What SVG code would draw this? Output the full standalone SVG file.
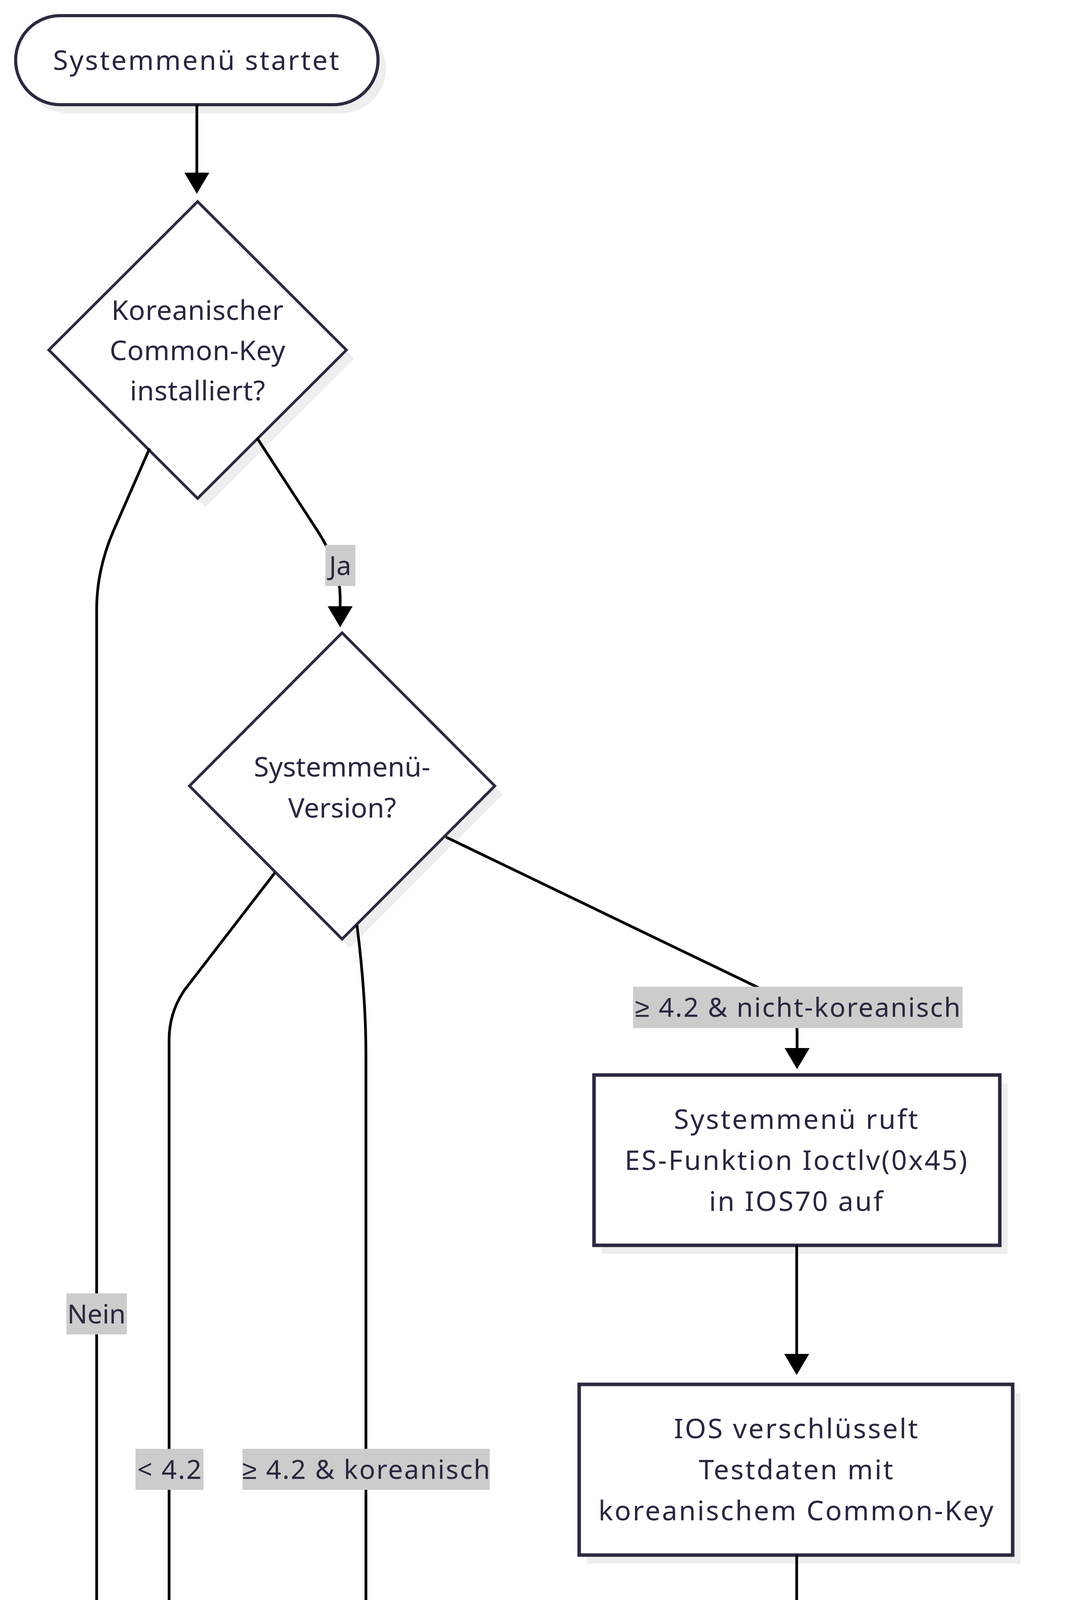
<svg xmlns="http://www.w3.org/2000/svg" width="2727" height="6250" viewBox="0 0 2727 6250">
<defs>
<style>
.sh{fill:#eeeeee;stroke:none}
.nd{fill:#ffffff;stroke:#2a2a40;stroke-width:7}
.bx{stroke-width:9}
.e{fill:none;stroke:#000000;stroke-width:7}
.t{font-family:"Noto Sans","Liberation Sans",sans-serif;font-size:70px;fill:#28273f;text-anchor:middle}
.wide{letter-spacing:4px}
.dia{letter-spacing:0.8px}
.lb{fill:#cccccc}
.lt{font-family:"Noto Sans","Liberation Sans",sans-serif;font-size:68px;fill:#28273f;text-anchor:middle}
.lts{letter-spacing:3px}
</style>
<marker id="arr" markerUnits="userSpaceOnUse" markerWidth="54" markerHeight="64" viewBox="0 0 54 64" refX="44" refY="32" orient="auto">
<path d="M0,0 L54,32 L0,64 z" fill="#000000"/>
</marker>
</defs>
<rect width="2727" height="6250" fill="#ffffff"/>
<g id="nodes">
<g id="node-start">
<rect class="sh" x="60" y="62" width="928" height="228" rx="114"/>
<rect class="nd" x="40" y="40" width="928" height="228" rx="114" style="stroke-width:8"/>
<text class="t wide" x="504" y="179">Systemmenü startet</text>
</g>
<g id="node-koreankey">
<polygon class="sh" points="526,538 907,918 526,1298 145,918"/>
<polygon class="nd" points="506,516 887,896 506,1276 125,896"/>
<text class="t dia" x="506" y="819">Koreanischer</text>
<text class="t dia" x="506" y="922">Common-Key</text>
<text class="t dia" x="506" y="1025">installiert?</text>
</g>
<g id="node-version">
<polygon class="sh" points="896,1642 1287,2034 896,2426 505,2034"/>
<polygon class="nd" points="876,1620 1267,2012 876,2404 485,2012"/>
<text class="t" x="876" y="1988">Systemmenü-</text>
<text class="t" x="876" y="2093">Version?</text>
</g>
<g id="node-ioctl">
<rect class="sh" x="1541" y="2774" width="1039" height="436"/>
<rect class="nd bx" x="1521" y="2752" width="1039" height="436"/>
<text class="t wide" x="2040" y="2890">Systemmenü ruft</text>
<text class="t wide" x="2040" y="2995">ES-Funktion Ioctlv(0x45)</text>
<text class="t wide" x="2040" y="3100">in IOS70 auf</text>
</g>
<g id="node-encrypt">
<rect class="sh" x="1503" y="3566" width="1110" height="437"/>
<rect class="nd bx" x="1483" y="3544" width="1110" height="437"/>
<text class="t wide" x="2040" y="3682">IOS verschlüsselt</text>
<text class="t wide" x="2040" y="3787">Testdaten mit</text>
<text class="t wide" x="2040" y="3892">koreanischem Common-Key</text>
</g>
<g id="node-result">
<polygon class="sh" points="2061,4246 2716,4899 2061,5552 1406,4899"/>
<polygon class="nd" points="2041,4224 2696,4877 2041,5530 1386,4877"/>
<text class="t dia" x="2041" y="4745">Ergebnis = hardcodierter</text>
<text class="t dia" x="2041" y="4850">Wert?</text>
<text class="t dia" x="2041" y="4955">(Koreanischer Common-Key</text>
<text class="t dia" x="2041" y="5060">ist installiert?)</text>
</g>
<g id="node-normal">
<rect class="sh" x="547" y="5955" width="694" height="229"/>
<rect class="nd bx" x="527" y="5933" width="694" height="229" style="fill:#51cf66"/>
<text class="t" x="874" y="6074" style="letter-spacing:-1px">Normaler Start</text>
</g>
<g id="node-error">
<rect class="sh" x="1622" y="5902" width="1027" height="334"/>
<rect class="nd bx" x="1602" y="5880" width="1027" height="334" style="fill:#ff6b6b"/>
<text class="t" x="2116" y="6020" style="letter-spacing:2px">Rückgabe: 0 -&gt;</text>
<text class="t" x="2116" y="6124" style="letter-spacing:2px">Error 003 wird ausgelöst</text>
</g>
</g>

<g id="connectors">
<path class="e" marker-end="url(#arr)" d="M504,268 L504,486"/>
<path class="e" marker-end="url(#arr)" d="M658,1121 L815,1362 Q871,1450 871,1530 L871,1596"/>
<path class="e" marker-end="url(#arr)" d="M383,1148 L290,1360 Q247.5,1460 247.5,1560 L247.5,5650 Q247.5,5700 290,5725 L641.3,5920.1"/>
<path class="e" marker-end="url(#arr)" d="M704,2234 L475,2531 Q433,2590 433,2662 L433,5641 Q433,5700 475,5733 L704.2,5914.8"/>
<path class="e" marker-end="url(#arr)" d="M914,2368 Q937,2550 937,2700 L937,5593 Q937,5800 903,5906.5"/>
<path class="e" marker-end="url(#arr)" d="M1142,2143 L1935,2525 Q2041,2578 2041,2640 L2041,2727"/>
<path class="e" marker-end="url(#arr)" d="M2040,3188 L2040,3510"/>
<path class="e" marker-end="url(#arr)" d="M2040,3981 L2040,4198"/>
<path class="e" marker-end="url(#arr)" d="M1794,5283 L1580,5636 Q1545,5700 1470,5740 L1123.9,5922.3"/>
<path class="e" marker-end="url(#arr)" d="M2096,5474 Q2110,5650 2115,5750 L2115,5851"/>
</g>

<g id="edge-labels">
<rect class="lb" x="833" y="1395" width="77" height="105"/>
<text class="lt" x="871" y="1472">Ja</text>
<rect class="lb" x="170" y="3311" width="155" height="105"/>
<text class="lt" x="247" y="3388">Nein</text>
<rect class="lb" x="347" y="3709" width="174" height="105"/>
<text class="lt lts" x="435" y="3786">&lt; 4.2</text>
<rect class="lb" x="621" y="3709" width="633" height="105"/>
<text class="lt lts" x="939" y="3786">≥ 4.2 &amp; koreanisch</text>
<rect class="lb" x="1621" y="2526" width="844" height="106"/>
<text class="lt lts" x="2044" y="2603">≥ 4.2 &amp; nicht-koreanisch</text>
<rect class="lb" x="1466" y="5652" width="155" height="105"/>
<text class="lt" x="1544" y="5729">Nein</text>
<rect class="lb" x="2077" y="5652" width="78" height="105"/>
<text class="lt" x="2116" y="5729">Ja</text>
</g>
</svg>
